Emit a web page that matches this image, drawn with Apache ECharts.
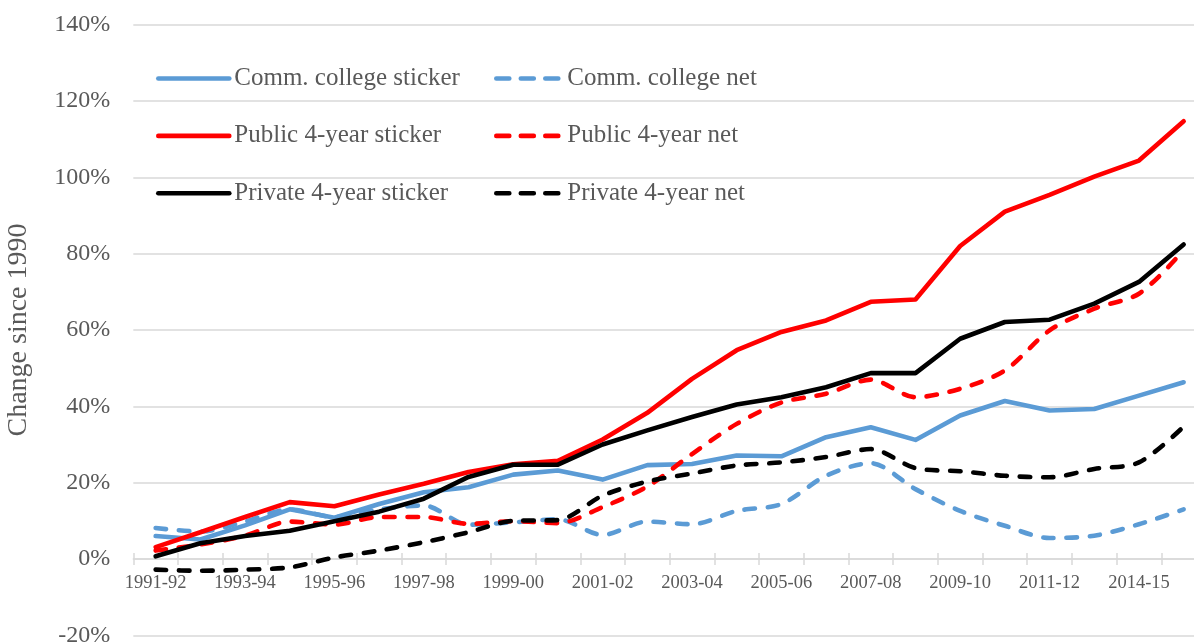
<!DOCTYPE html>
<html>
<head>
<meta charset="utf-8">
<script src="https://cdn.jsdelivr.net/npm/echarts@6/dist/echarts.min.js"></script>
<style>
html,body{margin:0;padding:0;background:#fff;}
#c{width:1194px;height:644px;}
</style>
</head>
<body>
<div id="c"></div>
<script>
const categories = ["1991-92","1992-93","1993-94","1994-95","1995-96","1996-97","1997-98","1998-99","1999-00","2000-01","2001-02","2002-03","2003-04","2004-05","2005-06","2006-07","2007-08","2008-09","2009-10","2010-11","2011-12","2013-14","2014-15","2015-16"];
const commSticker = [6.0,5.1,8.8,13.0,10.8,14.4,17.5,18.8,22.1,23.2,20.8,24.6,24.9,27.1,26.9,31.9,34.5,31.2,37.6,41.4,38.9,39.3,42.8,46.3];
const commNet     = [8.1,7.2,9.8,13.0,11.0,13.0,14.0,9.0,9.6,10.4,6.3,9.8,9.1,12.6,14.4,21.8,25.1,18.3,12.6,8.7,5.5,6.1,9.1,13.0];
const pubSticker  = [3.1,7.0,11.0,14.9,13.8,16.9,19.7,22.8,24.8,25.7,31.3,38.3,47.2,54.7,59.5,62.5,67.4,68.0,82.0,91.0,95.4,100.2,104.4,114.7];
const pubNet      = [2.2,3.8,6.1,9.8,9.0,11.0,11.0,9.2,9.9,9.4,13.6,19.0,27.5,35.4,41.0,43.3,47.0,42.4,44.6,49.4,59.9,65.6,69.5,80.9];
const privSticker = [0.7,4.1,6.0,7.4,9.9,12.4,15.8,21.5,24.7,24.7,30.0,33.7,37.2,40.5,42.4,45.0,48.7,48.7,57.7,62.1,62.7,66.9,72.6,82.4];
const privNet     = [-2.8,-3.1,-2.8,-2.2,0.4,2.2,4.4,7.0,10.0,10.2,16.6,20.3,22.4,24.5,25.3,26.7,28.8,23.8,23.0,21.8,21.4,23.6,25.3,34.7];

const FONT = "Liberation Serif";
const GREY = "#595959";
const BLUE = "#5B9BD5", RED = "#FF0000", BLACK = "#000000";
const DASH = [10.5, 12.8];
const GRID_TOP = 24.7, GRID_BOTTOM = 8.7, PLOT_H = 644 - GRID_TOP - GRID_BOTTOM;
const Y_MIN = -20, Y_MAX = 140;
// distance of the zero line from the plot's top and bottom edges
const ZERO_FROM_TOP = PLOT_H * (Y_MAX - 0) / (Y_MAX - Y_MIN);
const ZERO_FROM_BOTTOM = PLOT_H * (0 - Y_MIN) / (Y_MAX - Y_MIN);

function mk(name, data, color, dashed) {
  return {
    name: name, type: 'line', data: data, xAxisIndex: 0,
    symbol: 'none', showSymbol: false,
    smooth: dashed ? 0.3 : false,
    lineStyle: {color: color, width: 4.6, type: dashed ? DASH : 'solid', cap: 'round', join: 'round'},
    itemStyle: {color: color},
    emphasis: {disabled: true}
  };
}

const legendCommon = {
  orient: 'vertical', top: 66, padding: 0,
  itemHeight: 24, itemGap: 32.4,
  textStyle: {fontFamily: FONT, fontSize: 25, color: GREY, lineHeight: 24},
  itemStyle: {opacity: 0},
  selectedMode: false
};

const chart = echarts.init(document.getElementById('c'), null, {renderer: 'canvas'});
chart.setOption({
  animation: false,
  backgroundColor: '#ffffff',
  grid: {left: 133.3, right: -12, top: GRID_TOP, bottom: GRID_BOTTOM, containLabel: false, outerBoundsMode: 'none'},
  legend: [
    Object.assign({}, legendCommon, {left: 156, itemWidth: 71,
      lineStyle: {width: 4.6, cap: 'round'},
      data: ['Comm. college sticker','Public 4-year sticker','Private 4-year sticker']}),
    Object.assign({}, legendCommon, {left: 494, itemWidth: 66,
      lineStyle: {width: 4.6, cap: 'round', type: [13, 11.5]},
      data: ['Comm. college net','Public 4-year net','Private 4-year net']})
  ],
  xAxis: [{
    type: 'category', data: categories, boundaryGap: true, position: 'bottom', offset: -ZERO_FROM_BOTTOM,
    axisLine: {onZero: false, lineStyle: {color: '#D9D9D9', width: 1.5}},
    axisTick: {show: true, interval: 0, length: 6, lineStyle: {color: '#D9D9D9', width: 1.5}},
    axisLabel: {interval: 1, margin: 15, fontFamily: FONT, fontSize: 18.5, color: GREY},
    splitLine: {show: false}
  }, {
    type: 'category', data: categories, boundaryGap: true, position: 'top', offset: -ZERO_FROM_TOP,
    axisLine: {show: false, onZero: false},
    axisTick: {show: true, interval: 0, length: 6, lineStyle: {color: '#D9D9D9', width: 1.5}},
    axisLabel: {show: false},
    splitLine: {show: false}
  }],
  yAxis: {
    type: 'value', min: Y_MIN, max: Y_MAX, interval: 20,
    name: 'Change since 1990', nameLocation: 'middle', nameGap: 101,
    nameTextStyle: {fontFamily: FONT, fontSize: 28, color: GREY},
    axisLine: {show: false}, axisTick: {show: false},
    axisLabel: {formatter: '{value}%', margin: 23, fontFamily: FONT, fontSize: 24, color: GREY},
    splitLine: {lineStyle: {color: '#D9D9D9', width: 1.5}}
  },
  series: [
    mk('Comm. college sticker', commSticker, BLUE, false),
    mk('Comm. college net', commNet, BLUE, true),
    mk('Public 4-year sticker', pubSticker, RED, false),
    mk('Public 4-year net', pubNet, RED, true),
    mk('Private 4-year sticker', privSticker, BLACK, false),
    mk('Private 4-year net', privNet, BLACK, true)
  ]
});
</script>
</body>
</html>
